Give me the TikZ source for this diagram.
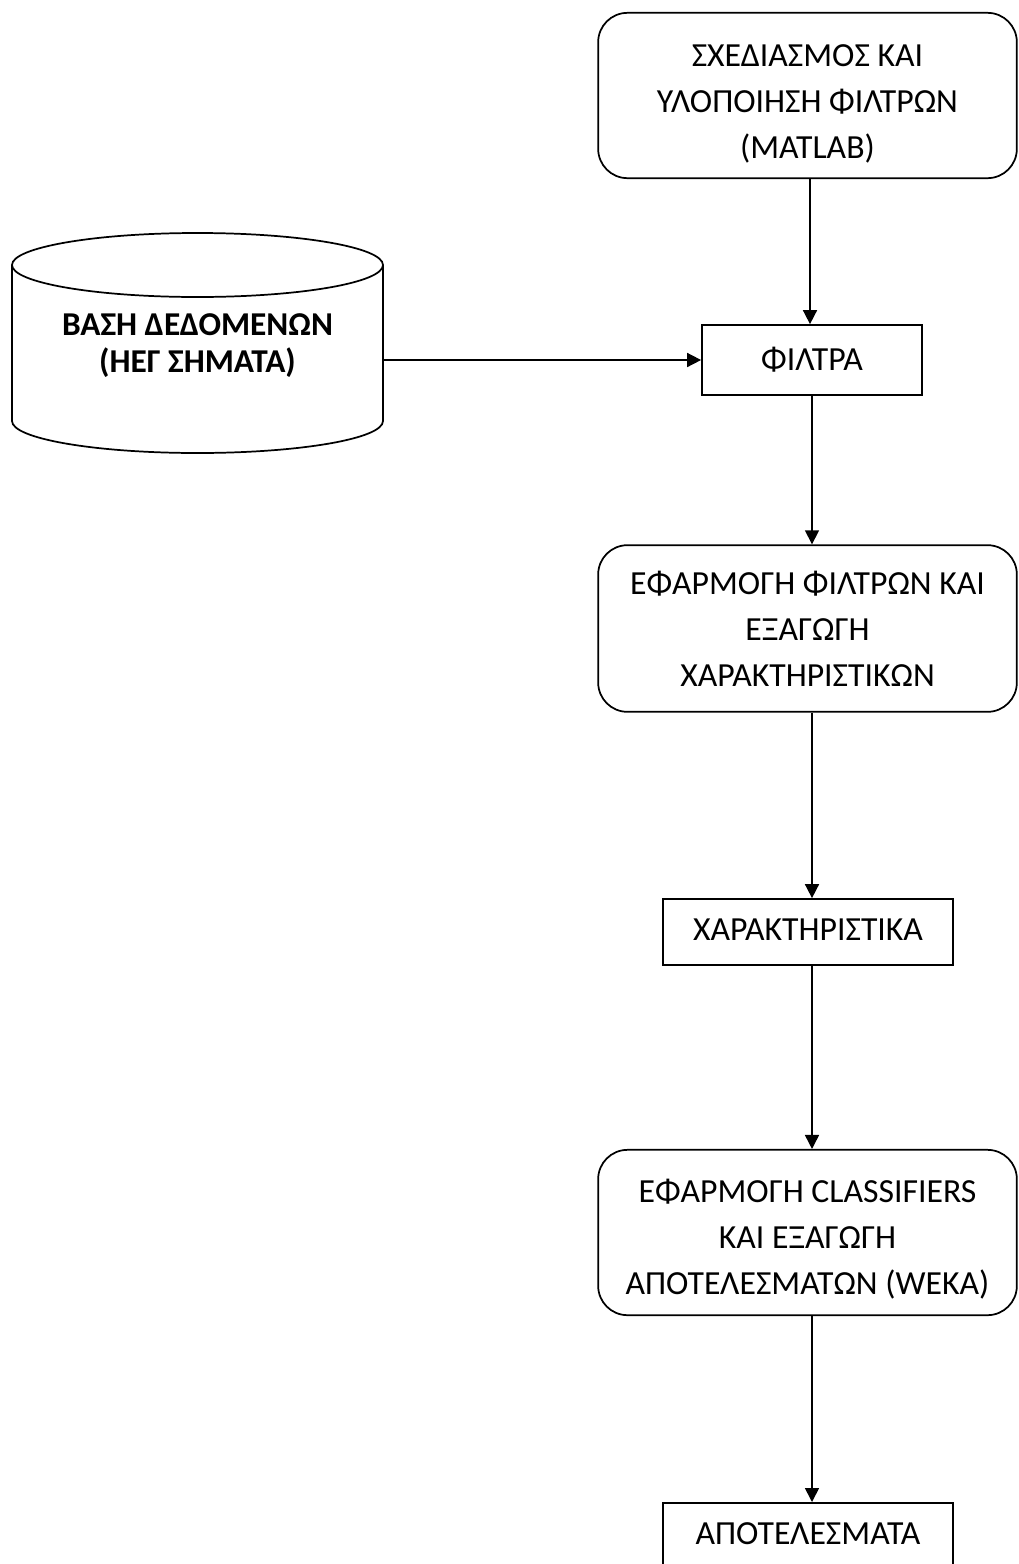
\documentclass[tikz,border=0pt]{standalone}
\usepackage{fontspec}
\setmainfont{Carlito}
\usetikzlibrary{arrows.meta}

\tikzset{
  boxtext/.style={align=center, font=\fontsize{25.3pt}{34.5pt}\selectfont, inner sep=0pt},
  base/.style={boxtext, draw=black, line width=1.3pt, fill=white},
  roundbox/.style={base, rounded corners=22pt, minimum width=314pt, minimum height=124pt},
  plainbox/.style={base},
  flow/.style={line width=1.2pt, -{Triangle[length=10.5pt, width=10.5pt]}},
}

\begin{document}
\begin{tikzpicture}[x=0.75pt, y=-0.75pt]
  \useasboundingbox (0,0) rectangle (1019,1564);
  \clip (0,0) rectangle (1019,1564);

  % process steps
  \node[roundbox, label={[boxtext, yshift=-6pt]center:{ΣΧΕΔΙΑΣΜΟΣ ΚΑΙ\\ΥΛΟΠΟΙΗΣΗ ΦΙΛΤΡΩΝ\\(MATLAB)}}]
    (design) at (807.5,95.5) {};
  \node[plainbox, minimum width=165pt, minimum height=52.5pt] (filters) at (812,360) {ΦΙΛΤΡΑ};
  \node[roundbox, minimum height=125pt] (apply) at (807.5,628.5)
    {ΕΦΑΡΜΟΓΗ ΦΙΛΤΡΩΝ ΚΑΙ\\ΕΞΑΓΩΓΗ\\ΧΑΡΑΚΤΗΡΙΣΤΙΚΩΝ};
  \node[plainbox, minimum width=217.5pt, minimum height=49.5pt,
        label={[boxtext, yshift=2pt]center:ΧΑΡΑΚΤΗΡΙΣΤΙΚΑ}] (features) at (808,932) {};
  \node[roundbox, label={[boxtext, yshift=-5pt]center:{ΕΦΑΡΜΟΓΗ CLASSIFIERS\\ΚΑΙ ΕΞΑΓΩΓΗ\\ΑΠΟΤΕΛΕΣΜΑΤΩΝ (WEKA)}}]
    (classify) at (807.5,1232.5) {};
  \node[plainbox, anchor=north, minimum width=217.5pt, text height=31pt, text depth=60pt]
    (results) at (808,1502) {ΑΠΟΤΕΛΕΣΜΑΤΑ};

  % database cylinder
  \node[minimum width=278pt, minimum height=165pt, align=center, inner sep=0pt,
        font=\fontsize{25pt}{27.75pt}\selectfont\bfseries] (db) at (197.5,346)
    {ΒΑΣΗ ΔΕΔΟΜΕΝΩΝ\\(ΗΕΓ ΣΗΜΑΤΑ)};
  \draw[line width=1.3pt]
    (12,265) arc[start angle=180, end angle=360, x radius=185.5, y radius=32]
    (12,265) arc[start angle=180, end angle=0, x radius=185.5, y radius=32]
    (12,265) -- (12,421)
    arc[start angle=180, end angle=0, x radius=185.5, y radius=32]
    -- (383,265);

  % connectors
  \draw[flow] (design.south -| 810,0) -- (filters.north -| 810,0);
  \draw[flow] (filters.west -| 383,0) -- (filters.west);
  \draw[flow] (filters.south -| 812,0) -- (apply.north -| 812,0);
  \draw[flow] (apply.south -| 812,0) -- (features.north -| 812,0);
  \draw[flow] (features.south -| 812,0) -- (classify.north -| 812,0);
  \draw[flow] (classify.south -| 812,0) -- (results.north -| 812,0);
\end{tikzpicture}
\end{document}
